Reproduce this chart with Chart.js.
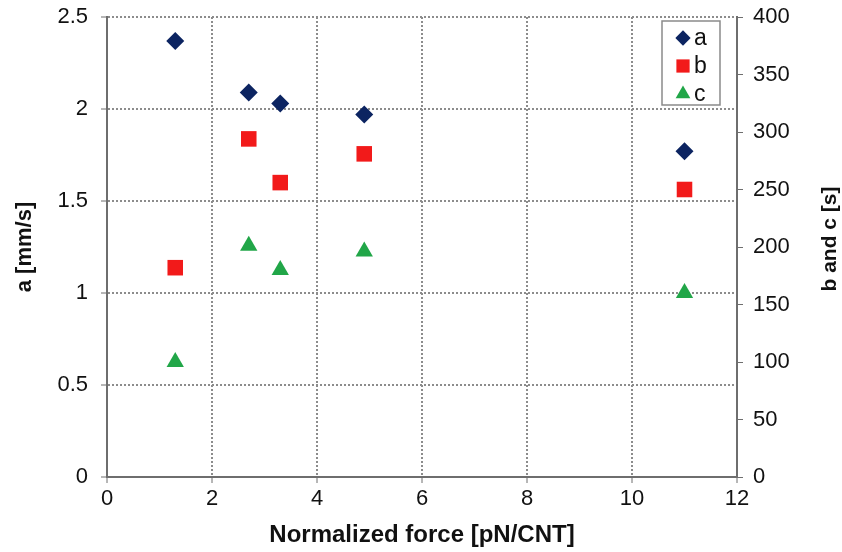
<!DOCTYPE html>
<html>
<head>
<meta charset="utf-8">
<script src="https://cdn.jsdelivr.net/npm/chart.js@4/dist/chart.umd.min.js"></script>
<style>
  html, body { margin: 0; padding: 0; background: #fff; }
  #wrap { width: 842px; height: 552px; }
</style>
</head>
<body>
<div id="wrap"><canvas id="c" width="842" height="552"></canvas></div>
<script>
// Normalized force [pN/CNT]
const force = [1.3, 2.7, 3.3, 4.9, 11];
// Series a [mm/s] (left axis)
const seriesA = [2.37, 2.09, 2.03, 1.97, 1.77];
// Series b and c [s] (right axis)
const seriesB = [182, 294, 256, 281, 250];
const seriesC = [100, 201, 180, 196, 160];

const seriesNames = ['a', 'b', 'c'];
const xTitle = 'Normalized force [pN/CNT]';
const yLeftTitle = 'a [mm/s]';
const yRightTitle = 'b and c [s]';

const toPoints = (xs, ys) => xs.map((x, i) => ({ x: x, y: ys[i] }));
const plain = (v) => String(Number(v.toFixed(2)));

const GRID = '#8c8c8c';
const AXIS = '#6e6e6e';
const FAMILY = 'Liberation Sans, Arial, sans-serif';
const TICK_FONT = { family: FAMILY, size: 22 };

// Fixed outer sizes for the axes so the plot area stays put
const fixY = (width) => (s) => { s.width = width; s.paddingTop = 0; s.paddingBottom = 0; };

// Legend drawn as a framed box inside the plot area, top right
const boxLegend = {
  id: 'boxLegend',
  afterDatasetsDraw(chart) {
    const ctx = chart.ctx;
    const area = chart.chartArea;
    const x0 = area.right - 75, y0 = area.top + 4, w = 58, h = 84;
    ctx.save();
    ctx.fillStyle = '#fff';
    ctx.fillRect(x0, y0, w, h);
    ctx.strokeStyle = '#8a8a8a';
    ctx.lineWidth = 1.5;
    ctx.strokeRect(x0, y0, w, h);
    ctx.font = '23px ' + FAMILY;
    ctx.textBaseline = 'middle';
    chart.data.datasets.forEach((ds, i) => {
      const cy = y0 + 17 + i * 28;
      const style = {
        pointStyle: ds.pointStyle,
        radius: ds.pointRadius * 0.85,
        borderWidth: 0
      };
      ctx.fillStyle = ds.backgroundColor;
      ctx.strokeStyle = ds.backgroundColor;
      Chart.helpers.drawPoint(ctx, style, x0 + 21, cy);
      ctx.fillStyle = '#111';
      ctx.fillText(ds.label, x0 + 32, cy + 1);
    });
    ctx.restore();
  }
};

// Right-hand axis title, read bottom to top like the left one
const rightTitle = {
  id: 'rightTitle',
  afterDraw(chart) {
    const ctx = chart.ctx;
    const s = chart.scales.y2;
    ctx.save();
    ctx.translate(s.right - 12, (s.top + s.bottom) / 2 - 8);
    ctx.rotate(-Math.PI / 2);
    ctx.font = 'bold 21px ' + FAMILY;
    ctx.fillStyle = '#111';
    ctx.textAlign = 'center';
    ctx.textBaseline = 'middle';
    ctx.fillText(yRightTitle, 0, 0);
    ctx.restore();
  }
};

new Chart(document.getElementById('c'), {
  type: 'scatter',
  data: {
    datasets: [
      {
        label: seriesNames[0],
        data: toPoints(force, seriesA),
        yAxisID: 'y',
        pointStyle: 'rectRot',
        pointRadius: 9,
        backgroundColor: '#0c2461',
        borderColor: '#0c2461',
        borderWidth: 0
      },
      {
        label: seriesNames[1],
        data: toPoints(force, seriesB),
        yAxisID: 'y2',
        pointStyle: 'rect',
        pointRadius: 11,
        backgroundColor: '#f21a1a',
        borderColor: '#f21a1a',
        borderWidth: 0
      },
      {
        label: seriesNames[2],
        data: toPoints(force, seriesC),
        yAxisID: 'y2',
        pointStyle: 'triangle',
        pointRadius: 10,
        backgroundColor: '#21a648',
        borderColor: '#21a648',
        borderWidth: 0
      }
    ]
  },
  options: {
    responsive: false,
    animation: false,
    layout: { padding: { top: 17, left: 0, right: 0, bottom: 0 } },
    plugins: {
      legend: { display: false },
      tooltip: { enabled: false }
    },
    scales: {
      x: {
        type: 'linear',
        min: 0, max: 12,
        ticks: { stepSize: 2, color: '#111', font: TICK_FONT, padding: 3, callback: plain },
        grid: {
          color: GRID, lineWidth: 2,
          tickColor: AXIS, tickWidth: 1, tickLength: 6, tickBorderDash: []
        },
        border: { display: true, color: AXIS, width: 2, dash: [2, 2] },
        title: { display: true, text: xTitle, color: '#111', font: { family: FAMILY, size: 24, weight: 'bold' }, padding: { top: 0, bottom: 2 } },
        afterFit(s) { s.height = 75; s.paddingLeft = 0; s.paddingRight = 0; }
      },
      y: {
        position: 'left',
        min: 0, max: 2.5,
        ticks: { stepSize: 0.5, color: '#111', font: TICK_FONT, padding: 13, callback: plain },
        grid: {
          color: GRID, lineWidth: 2,
          tickColor: AXIS, tickWidth: 1, tickLength: 6, tickBorderDash: []
        },
        border: { display: true, color: AXIS, width: 2, dash: [2, 2] },
        title: { display: true, text: yLeftTitle, color: '#111', font: { family: FAMILY, size: 22, weight: 'bold' }, padding: { top: 12, bottom: 0 } },
        afterFit: fixY(107)
      },
      y2: {
        position: 'right',
        min: 0, max: 400,
        ticks: { stepSize: 50, color: '#111', font: TICK_FONT, padding: 10, callback: plain },
        grid: {
          drawOnChartArea: false,
          tickColor: AXIS, tickWidth: 1, tickLength: 6, tickBorderDash: []
        },
        border: { display: true, color: AXIS, width: 2 },
        title: { display: false },
        afterFit: fixY(105)
      }
    }
  },
  plugins: [boxLegend, rightTitle]
});
</script>
</body>
</html>
